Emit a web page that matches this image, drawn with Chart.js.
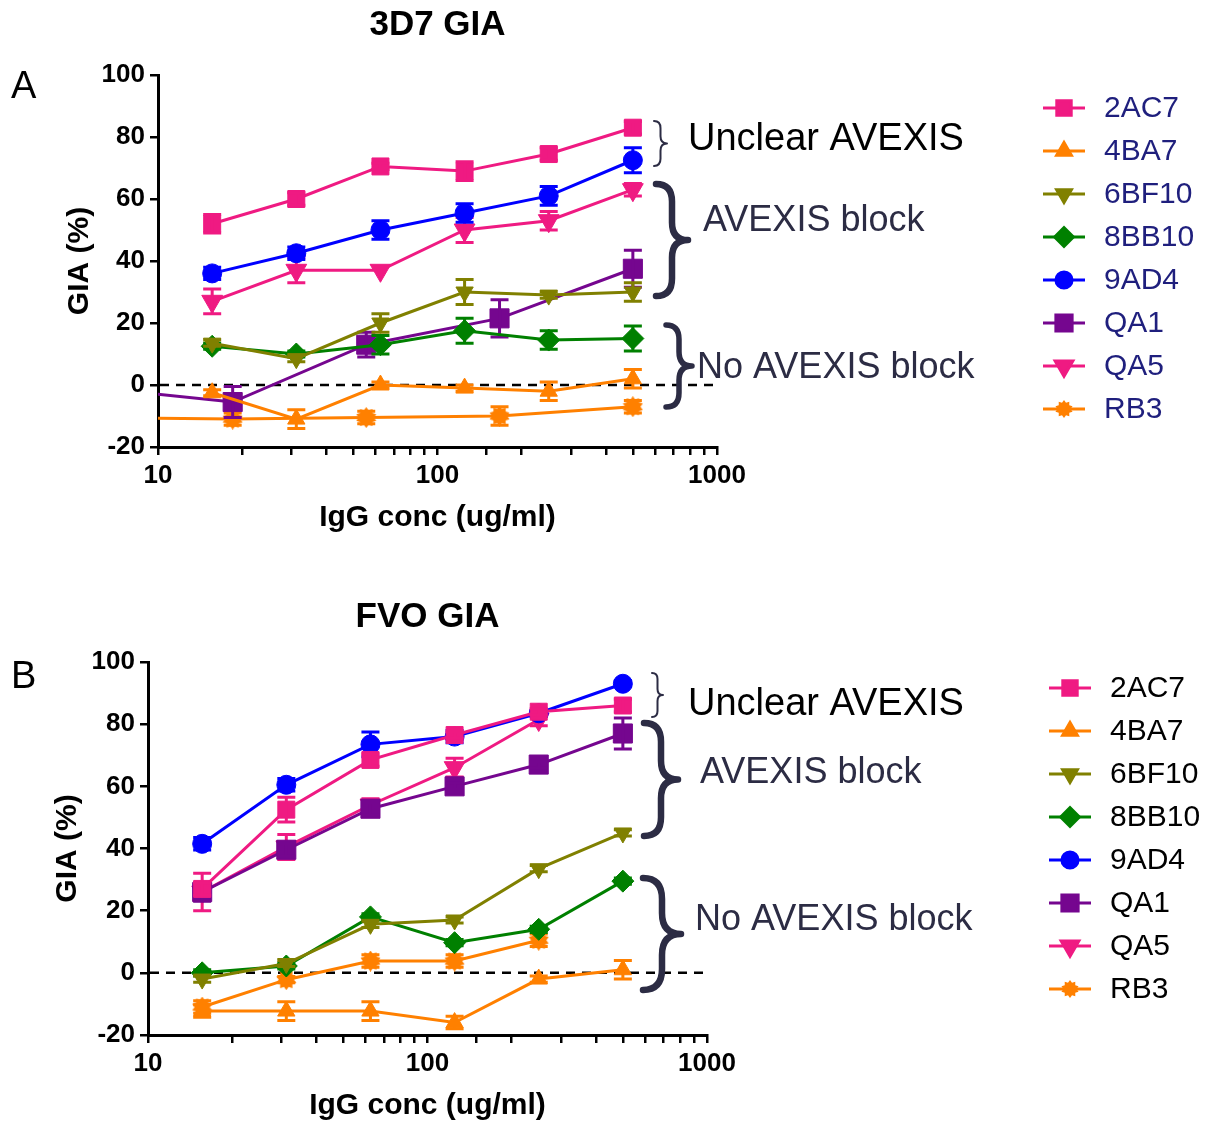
<!DOCTYPE html>
<html>
<head>
<meta charset="utf-8">
<script src="https://cdn.jsdelivr.net/npm/chart.js@4.4.1/dist/chart.umd.min.js"></script>
<style>
  html, body { margin: 0; padding: 0; background: #ffffff; }
  #wrap { position: relative; width: 1213px; height: 1124px; overflow: hidden; background: #fff; }
  canvas { position: absolute; left: 0; }
  #c1 { top: 0; }
  #c2 { top: 562px; }
</style>
</head>
<body>
<div id="wrap">
  <canvas id="c1" width="1213" height="562"></canvas>
  <canvas id="c2" width="1213" height="562"></canvas>
</div>
<script>
// ---------------- DATA ----------------
const seriesNames = ['2AC7', '4BA7', '6BF10', '8BB10', '9AD4', 'QA1', 'QA5', 'RB3'];
const xTickLabels = [10, 100, 1000];
const yTickValues = [-20, 0, 20, 40, 60, 80, 100];

// concentrations (ug/ml)
const conc2fold = [15.625, 31.25, 62.5, 125, 250, 500];
const conc3fold = [6.17, 18.5, 55.6, 166.7, 500];

// Panel A: 3D7 GIA (%)
const a2AC7  = [52, 60, 70.5, 69, 74.5, 83];
const a4BA7  = [-2.5, -11, 0, -1, -2, 2];
const a6BF10 = [13.5, 8.5, 20, 30, 29, 30];
const a8BB10 = [12.5, 10, 13, 17.5, 14.5, 15];
const a9AD4  = [36, 42.5, 50, 55.5, 61, 72.5];
const aQA1   = [-1, -5.5, 13, 21.5, 37.5];
const aQA5   = [27, 37, 37, 50, 53, 63];
const aRB3   = [-10.5, -11, -10.5, -10, -7];
// Panel A: error (SD)
const e2AC7A  = [3, 2, 1, 3, 2, 2];
const e4BA7A  = [1, 3, 1, 1, 3, 3];
const e6BF10A = [1, 1, 3, 4, 1, 3];
const e8BB10A = [1, 1, 3, 4, 3, 4];
const e9AD4A  = [2, 2, 3, 3, 3, 4];
const eQA1A   = [0, 5, 4, 6, 6];
const eQA5A   = [4, 4, 0, 4, 3, 2];
const eRB3A   = [0, 2, 2, 3, 2];

// Panel B: FVO GIA (%)
const b2AC7  = [27, 52.5, 68.5, 76.5, 84, 86];
const b4BA7  = [-12.3, -12.3, -12.3, -16, -2, 1];
const b6BF10 = [-2, 3, 15.6, 17, 33.5, 45];
const b8BB10 = [0, 2.2, 18, 9.7, 14, 29.5];
const b9AD4  = [41.5, 60.5, 73.5, 76, 83.5, 93];
const bQA1   = [26, 39.6, 52.8, 60, 67, 77];
const bQA5   = [26, 40.5, 54, 66, 81.5, null];
const bRB3   = [-11, -2.2, 3.8, 3.8, 10.5, null];
// Panel B: error (SD)
const e2AC7B  = [2, 4, 2, 1, 1, 2];
const e4BA7B  = [2, 3, 3, 2, 1, 3];
const e6BF10B = [1, 1, 1, 1, 1, 1];
const e8BB10B = [1, 1, 1, 1, 1, 1];
const e9AD4B  = [2, 2, 4, 2, 1, 1];
const eQA1B   = [3, 2, 2, 1, 1, 5];
const eQA5B   = [6, 4, 2, 3, 2, 0];
const eRB3B   = [2, 1, 2, 2, 2, 0];

// ---------------- STYLES ----------------
const PINK = '#ef1a82', ORANGE = '#ff8000', OLIVE = '#808000', GREEN = '#008000',
      BLUE = '#0000ff', PURPLE = '#75068f';
const FONT = '"Liberation Sans", Arial, Helvetica, sans-serif';

function makeStar(color, size) {
  const c = document.createElement('canvas');
  c.width = size; c.height = size;
  const g = c.getContext('2d');
  const cx = size / 2, cy = size / 2, ro = size / 2, ri = size / 2 * 0.72, n = 10;
  g.fillStyle = color;
  g.beginPath();
  for (let i = 0; i < n * 2; i++) {
    const r = i % 2 === 0 ? ro : ri;
    const a = Math.PI * i / n - Math.PI / 2;
    const px = cx + r * Math.cos(a), py = cy + r * Math.sin(a);
    if (i === 0) g.moveTo(px, py); else g.lineTo(px, py);
  }
  g.closePath();
  g.fill();
  return c;
}
const starBig = makeStar(ORANGE, 21);
const starSmall = makeStar(ORANGE, 18);

const markerStyles = {
  '2AC7':  { color: PINK,   style: 'rect',     rot: 0,   r: 12 },
  '4BA7':  { color: ORANGE, style: 'triangle', rot: 0,   r: 10 },
  '6BF10': { color: OLIVE,  style: 'triangle', rot: 180, r: 10 },
  '8BB10': { color: GREEN,  style: 'rectRot',  rot: 0,   r: 11 },
  '9AD4':  { color: BLUE,   style: 'circle',   rot: 0,   r: 9.5 },
  'QA1':   { color: PURPLE, style: 'rect',     rot: 0,   r: 13.5 },
  'QA5':   { color: PINK,   style: 'triangle', rot: 180, r: 12 },
  'RB3':   { color: ORANGE, style: starBig,    rot: 0,   r: 10, legendStyle: starSmall }
};

function pts(xs, ys) {
  return xs.map((x, i) => ({ x: x, y: ys[i] }));
}
function makeDataset(name, xs, ys, errs) {
  const m = markerStyles[name];
  return {
    label: name,
    data: pts(xs, ys),
    errors: errs,
    borderColor: m.color,
    backgroundColor: m.color,
    pointBackgroundColor: m.color,
    pointBorderColor: m.color,
    pointBorderWidth: 1,
    borderWidth: 3,
    pointStyle: m.style,
    pointRotation: m.rot,
    pointRadius: m.r,
    pointHoverRadius: m.r,
    tension: 0,
    spanGaps: false,
    legendStyle: m.legendStyle || m.style
  };
}

// ---------------- PLUGINS ----------------
const errorBars = {
  id: 'errorBars',
  afterDatasetDraw(chart, args) {
    const ds = chart.data.datasets[args.index];
    if (!ds.errors) return;
    const ctx = chart.ctx, xs = chart.scales.x, ys = chart.scales.y;
    ctx.save();
    ctx.strokeStyle = ds.borderColor;
    ctx.lineWidth = 3;
    ds.data.forEach((p, i) => {
      const e = ds.errors[i];
      if (p.y === null || !e) return;
      if (p.x < xs.min || p.x > xs.max) return;
      const px = xs.getPixelForValue(p.x);
      const y1 = ys.getPixelForValue(p.y + e), y2 = ys.getPixelForValue(p.y - e);
      ctx.beginPath();
      ctx.moveTo(px, y1); ctx.lineTo(px, y2);
      ctx.moveTo(px - 9, y1); ctx.lineTo(px + 9, y1);
      ctx.moveTo(px - 9, y2); ctx.lineTo(px + 9, y2);
      ctx.stroke();
    });
    ctx.restore();
  }
};

const zeroLine = {
  id: 'zeroLine',
  beforeDatasetsDraw(chart) {
    const ctx = chart.ctx, a = chart.chartArea, y = chart.scales.y.getPixelForValue(0);
    ctx.save();
    ctx.strokeStyle = '#000';
    ctx.lineWidth = 2.5;
    ctx.setLineDash([9, 7]);
    ctx.beginPath();
    ctx.moveTo(a.left + 2, y); ctx.lineTo(a.right + 2, y);
    ctx.stroke();
    ctx.restore();
  }
};

function drawBrace(ctx, x, y1, y2, w, lw, color) {
  const m = (y1 + y2) / 2, h = w * 0.5;
  const r = Math.min(w * 0.55, (y2 - y1) / 5);
  ctx.save();
  ctx.strokeStyle = color;
  ctx.lineWidth = lw;
  ctx.lineCap = 'round';
  ctx.lineJoin = 'round';
  ctx.beginPath();
  ctx.moveTo(x, y1);
  ctx.quadraticCurveTo(x + h, y1, x + h, y1 + r);
  ctx.lineTo(x + h, m - r);
  ctx.quadraticCurveTo(x + h, m, x + w, m);
  ctx.quadraticCurveTo(x + h, m, x + h, m + r);
  ctx.lineTo(x + h, y2 - r);
  ctx.quadraticCurveTo(x + h, y2, x, y2);
  ctx.stroke();
  ctx.restore();
}

const decor = {
  id: 'decor',
  afterDraw(chart, args, o) {
    const ctx = chart.ctx, a = chart.chartArea;
    const cx = (a.left + a.right) / 2, cy = (a.top + a.bottom) / 2;
    ctx.save();
    ctx.fillStyle = '#000';
    ctx.textBaseline = 'middle';
    // title
    ctx.textAlign = 'center';
    ctx.font = 'bold 35px ' + FONT;
    ctx.fillText(o.title, cx, a.top + o.titleDy);
    // panel letter
    ctx.textAlign = 'left';
    ctx.font = '38px ' + FONT;
    ctx.fillText(o.letter, 11, a.top + o.letterDy);
    // axis titles
    ctx.font = 'bold 30px ' + FONT;
    ctx.textAlign = 'center';
    ctx.fillText(o.xTitle, cx, a.bottom + 71);
    ctx.save();
    ctx.translate(a.left - o.yTitleDx, cy);
    ctx.rotate(-Math.PI / 2);
    ctx.fillText(o.yTitle, 0, 0);
    ctx.restore();
    // legend
    chart.data.datasets.forEach((ds, i) => {
      const y = o.legendTop + i * o.legendStep;
      ctx.save();
      ctx.strokeStyle = ds.borderColor;
      ctx.fillStyle = ds.borderColor;
      ctx.lineWidth = 3;
      ctx.beginPath();
      ctx.moveTo(o.legendX - 21, y); ctx.lineTo(o.legendX + 21, y);
      ctx.stroke();
      Chart.helpers.drawPoint(ctx, {
        pointStyle: ds.legendStyle,
        rotation: ds.pointRotation || 0,
        radius: ds.pointRadius * 0.85,
        borderWidth: 1
      }, o.legendX, y);
      ctx.restore();
      ctx.fillStyle = o.legendColor;
      ctx.textAlign = 'left';
      ctx.font = '30px ' + FONT;
      ctx.fillText(ds.label, o.legendX + 40, y + 1);
    });
    // braces and annotation labels
    o.braces.forEach(b => drawBrace(ctx, b.x, b.y1, b.y2, b.w, b.lw, '#2c2c44'));
    o.notes.forEach(n => {
      ctx.fillStyle = n.color;
      ctx.textAlign = 'left';
      ctx.font = n.size + 'px ' + FONT;
      ctx.fillText(n.text, n.x, n.y);
    });
    ctx.restore();
  }
};

// ---------------- CHART FACTORY ----------------
function makeChart(canvasId, datasets, geom, decorOpts) {
  return new Chart(document.getElementById(canvasId), {
    type: 'line',
    data: { datasets: datasets },
    options: {
      responsive: false,
      maintainAspectRatio: false,
      devicePixelRatio: 1,
      animation: false,
      layout: { padding: { left: 0, top: geom.top, right: geom.right, bottom: 0 } },
      plugins: {
        legend: { display: false },
        title: { display: false },
        tooltip: { enabled: false },
        decor: decorOpts
      },
      scales: {
        x: {
          type: 'logarithmic',
          min: 10, max: 1000,
          afterFit: s => { s.height = geom.xh; },
          border: { display: true, color: '#000', width: 3 },
          grid: { display: true, drawOnChartArea: false, drawTicks: true, tickLength: 8, color: '#000', lineWidth: 2.5 },
          ticks: {
            autoSkip: false, maxRotation: 0, minRotation: 0, padding: 5,
            color: '#000',
            font: { family: FONT, size: 26, weight: 'bold' },
            callback: v => xTickLabels.includes(Math.round(v)) && Math.abs(Math.log10(v) % 1) < 1e-6 ? String(Math.round(v)) : ''
          }
        },
        y: {
          type: 'linear',
          min: -20, max: 100,
          afterFit: s => { s.width = geom.yw; },
          afterBuildTicks: s => { s.ticks = yTickValues.map(v => ({ value: v })); },
          border: { display: true, color: '#000', width: 3 },
          grid: { display: true, drawOnChartArea: false, drawTicks: true, tickLength: 8, color: '#000', lineWidth: 2.5 },
          ticks: {
            padding: 5,
            color: '#000',
            font: { family: FONT, size: 26, weight: 'bold' }
          }
        }
      }
    },
    plugins: [zeroLine, errorBars, decor]
  });
}

// ---------------- PANEL A ----------------
const dsA = [
  makeDataset('2AC7', conc2fold, a2AC7, e2AC7A),
  makeDataset('4BA7', conc2fold, a4BA7, e4BA7A),
  makeDataset('6BF10', conc2fold, a6BF10, e6BF10A),
  makeDataset('8BB10', conc2fold, a8BB10, e8BB10A),
  makeDataset('9AD4', conc2fold, a9AD4, e9AD4A),
  makeDataset('QA1', conc3fold, aQA1, eQA1A),
  makeDataset('QA5', conc2fold, aQA5, eQA5A),
  makeDataset('RB3', conc3fold, aRB3, eRB3A)
];
makeChart('c1', dsA, { top: 75, right: 1213 - 717, xh: 562 - 447, yw: 158 }, {
  title: '3D7 GIA', titleDy: -50, letter: 'A', letterDy: 13,
  xTitle: 'IgG conc (ug/ml)', yTitle: 'GIA (%)', yTitleDx: 78,
  legendX: 1064, legendTop: 108, legendStep: 43, legendColor: '#1f1f7d',
  braces: [
    { x: 654, y1: 121, y2: 166, w: 13, lw: 2 },
    { x: 656, y1: 184, y2: 296, w: 32, lw: 6.5 },
    { x: 666, y1: 325, y2: 407, w: 26, lw: 5.5 }
  ],
  notes: [
    { text: 'Unclear AVEXIS', x: 688, y: 140, size: 38, color: '#000' },
    { text: 'AVEXIS block', x: 703, y: 221, size: 36, color: '#2c2c44' },
    { text: 'No AVEXIS block', x: 697, y: 368, size: 36, color: '#2c2c44' }
  ]
});

// ---------------- PANEL B ----------------
const dsB = [
  makeDataset('2AC7', conc2fold, b2AC7, e2AC7B),
  makeDataset('4BA7', conc2fold, b4BA7, e4BA7B),
  makeDataset('6BF10', conc2fold, b6BF10, e6BF10B),
  makeDataset('8BB10', conc2fold, b8BB10, e8BB10B),
  makeDataset('9AD4', conc2fold, b9AD4, e9AD4B),
  makeDataset('QA1', conc2fold, bQA1, eQA1B),
  makeDataset('QA5', conc2fold, bQA5, eQA5B),
  makeDataset('RB3', conc2fold, bRB3, eRB3B)
];
const OFF = 562;
makeChart('c2', dsB, { top: 662 - OFF, right: 1213 - 707, xh: 562 - (1035 - OFF), yw: 148 }, {
  title: 'FVO GIA', titleDy: -45, letter: 'B', letterDy: 16,
  xTitle: 'IgG conc (ug/ml)', yTitle: 'GIA (%)', yTitleDx: 80,
  legendX: 1070, legendTop: 688 - OFF, legendStep: 43, legendColor: '#000',
  braces: [
    { x: 652, y1: 673 - OFF, y2: 717 - OFF, w: 11, lw: 2 },
    { x: 644, y1: 723 - OFF, y2: 836 - OFF, w: 34, lw: 6.5 },
    { x: 643, y1: 878 - OFF, y2: 990 - OFF, w: 38, lw: 6.5 }
  ],
  notes: [
    { text: 'Unclear AVEXIS', x: 688, y: 705 - OFF, size: 38, color: '#000' },
    { text: 'AVEXIS block', x: 700, y: 773 - OFF, size: 36, color: '#2c2c44' },
    { text: 'No AVEXIS block', x: 695, y: 920 - OFF, size: 36, color: '#2c2c44' }
  ]
});
</script>
</body>
</html>
